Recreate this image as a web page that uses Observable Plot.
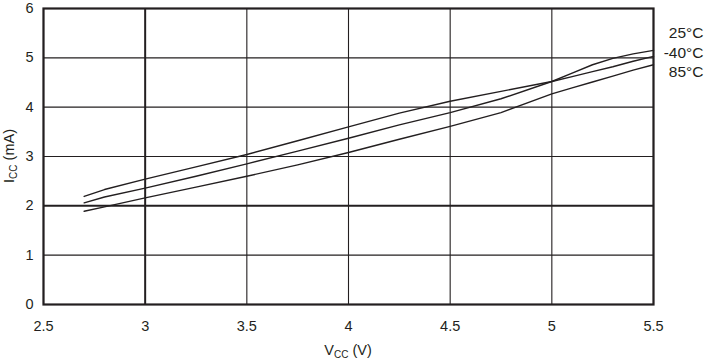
<!DOCTYPE html>
<html>
<head>
<meta charset="utf-8">
<script src="https://cdn.jsdelivr.net/npm/d3@7"></script>
<script src="https://cdn.jsdelivr.net/npm/@observablehq/plot@0.6"></script>
<style>
  html, body { margin: 0; padding: 0; background: #fff; }
  svg { font-family: "Liberation Sans", Arial, sans-serif; }
</style>
</head>
<body>
<div id="chart"></div>
<script>
const vcc = [2.7, 2.8, 3.0, 3.25, 3.5, 3.75, 4.0, 4.25, 4.5, 4.75, 5.0, 5.1, 5.2, 5.3, 5.4, 5.5];
const iccMinus40 = [2.19, 2.33, 2.54, 2.79, 3.04, 3.32, 3.60, 3.88, 4.12, 4.32, 4.52, 4.62, 4.72, 4.82, 4.93, 5.03];
const icc25 = [2.06, 2.18, 2.36, 2.60, 2.85, 3.11, 3.37, 3.64, 3.89, 4.17, 4.52, 4.69, 4.86, 4.99, 5.08, 5.15];
const icc85 = [1.89, 1.98, 2.16, 2.38, 2.60, 2.83, 3.08, 3.35, 3.61, 3.89, 4.27, 4.39, 4.51, 4.63, 4.75, 4.86];
const seriesNames = ["-40°C", "25°C", "85°C"];
const labelOrder = ["25°C", "-40°C", "85°C"];
const xTicks = [2.5, 3, 3.5, 4, 4.5, 5, 5.5];
const yTicks = [0, 1, 2, 3, 4, 5, 6];
const xMajor = [3];
const yMajor = [2];

const seriesValues = [iccMinus40, icc25, icc85];
const rows = seriesNames.flatMap((name, i) => vcc.map((v, j) => ({ series: name, vcc: v, icc: seriesValues[i][j] })));

const ink = "#231f20";

const plot = Plot.plot({
  width: 707,
  height: 359,
  marginLeft: 43,
  marginRight: 54,
  marginTop: 8,
  marginBottom: 55,
  style: { fontFamily: "Liberation Sans, Arial, sans-serif", fontSize: "14px", color: ink, background: "#fff" },
  x: { domain: [2.5, 5.5], label: null },
  y: { domain: [0, 6], label: null },
  marks: [
    Plot.ruleX(xTicks.filter(d => !xMajor.includes(d)), { stroke: ink, strokeWidth: 1.1 }),
    Plot.ruleY(yTicks.filter(d => !yMajor.includes(d)), { stroke: ink, strokeWidth: 1.1 }),
    Plot.ruleX(xMajor, { stroke: ink, strokeWidth: 2 }),
    Plot.ruleY(yMajor, { stroke: ink, strokeWidth: 2 }),
    Plot.frame({ stroke: ink, strokeWidth: 2.2 }),
    Plot.line(rows, { x: "vcc", y: "icc", z: "series", stroke: ink, strokeWidth: 1.4 }),
    Plot.axisX(xTicks, { tickSize: 0, tickPadding: 16, fontSize: 14.5, fill: ink, label: null, tickFormat: d => String(d) }),
    Plot.axisY(yTicks, { tickSize: 0, tickPadding: 10, fontSize: 14.5, fill: ink, label: null }),
    ...labelOrder.map((lab, i) => Plot.text([lab], {
      frameAnchor: "top-right", lineAnchor: "middle", text: d => d, dx: 50, dy: 25 + i * 19.5,
      textAnchor: "end", fontSize: 15.5, fill: ink
    }))
  ]
});

document.getElementById("chart").appendChild(plot);

// Axis titles with subscripts
const svg = d3.select(plot);
const xs = plot.scale("x"), ys = plot.scale("y");
const xc = (xs.apply(2.5) + xs.apply(5.5)) / 2;
const yc = (ys.apply(0) + ys.apply(6)) / 2;

const xt = svg.append("text")
  .attr("x", xc).attr("y", 355)
  .attr("text-anchor", "middle")
  .attr("fill", ink)
  .style("font-size", "14.5px");
xt.append("tspan").text("V");
xt.append("tspan").attr("dy", 3).style("font-size", "10px").text("CC");
xt.append("tspan").attr("dy", -3).text(" (V)");

const yt = svg.append("text")
  .attr("transform", `translate(14,${yc}) rotate(-90)`)
  .attr("text-anchor", "middle")
  .attr("fill", ink)
  .style("font-size", "14.5px");
yt.append("tspan").text("I");
yt.append("tspan").attr("dy", 3).style("font-size", "10px").text("CC");
yt.append("tspan").attr("dy", -3).text(" (mA)");
</script>
</body>
</html>
